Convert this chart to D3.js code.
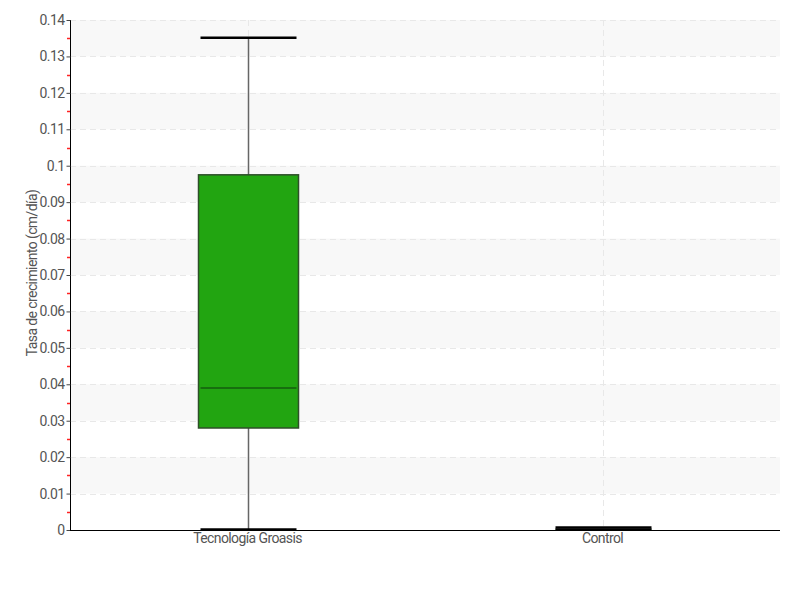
<!DOCTYPE html>
<html>
<head>
<meta charset="utf-8">
<script src="https://cdn.jsdelivr.net/npm/d3@7"></script>
<style>
  body { margin: 0; background: #fff; }
  text { font-family: Roboto, "Noto Sans", sans-serif; fill: #555; letter-spacing: -0.6px; }
</style>
</head>
<body>
<div id="chart"></div>
<script>
// box plot values
var categories = ["Tecnología Groasis", "Control"];
var whiskerLow = [0, 0];
var q1Values = [0.028, 0];
var medianValues = [0.039, 0];
var q3Values = [0.0975, 0];
var whiskerHigh = [0.135, 0];
var yTicks = [0, 0.01, 0.02, 0.03, 0.04, 0.05, 0.06, 0.07, 0.08, 0.09, 0.1, 0.11, 0.12, 0.13, 0.14];

var svgWidth = 800;
var svgHeight = 600;
var margin = { top: 20, right: 20, bottom: 70, left: 70 };
var width = svgWidth - margin.left - margin.right;
var height = svgHeight - margin.top - margin.bottom;

var svg = d3.select("#chart")
  .append("svg")
  .attr("width", svgWidth)
  .attr("height", svgHeight);

var chartGroup = svg.append("g")
  .attr("transform", `translate(${margin.left}, ${margin.top})`);

var xScale = d3.scaleBand()
  .domain(categories)
  .range([0, width]);

var yScale = d3.scaleLinear()
  .domain([0, 0.14])
  .range([height, 0]);

var boxes = categories.map(function(c, i) {
  return {
    name: c, low: whiskerLow[i], q1: q1Values[i], med: medianValues[i],
    q3: q3Values[i], high: whiskerHigh[i]
  };
});

// alternating shaded bands
var bandStarts = yTicks.filter(function(t, i) { return i % 2 == 1 && i < yTicks.length - 1; });
chartGroup.selectAll(".band")
  .data(bandStarts)
  .enter()
  .append("rect")
  .attr("x", 0)
  .attr("width", width)
  .attr("y", d => yScale(d + 0.01))
  .attr("height", d => yScale(d) - yScale(d + 0.01))
  .attr("fill", "#f8f8f8");

// grid lines
chartGroup.selectAll(".hgrid")
  .data(yTicks.slice(1))
  .enter()
  .append("line")
  .attr("x1", 0)
  .attr("x2", width)
  .attr("y1", d => Math.round(yScale(d)) + 0.5)
  .attr("y2", d => Math.round(yScale(d)) + 0.5)
  .attr("stroke", "#e8e8e8")
  .attr("stroke-dasharray", "6,4");

chartGroup.selectAll(".vgrid")
  .data(categories)
  .enter()
  .append("line")
  .attr("x1", d => Math.round(xScale(d) + xScale.bandwidth() / 2) + 0.5)
  .attr("x2", d => Math.round(xScale(d) + xScale.bandwidth() / 2) + 0.5)
  .attr("y1", 0)
  .attr("y2", height)
  .attr("stroke", "#e8e8e8")
  .attr("stroke-dasharray", "6,4");

// boxes
var boxWidth = 100;
var capWidth = 96;
var g = chartGroup.selectAll(".box")
  .data(boxes)
  .enter()
  .append("g")
  .attr("transform", d => `translate(${Math.round(xScale(d.name) + xScale.bandwidth() / 2) + 0.5}, 0)`);

g.append("line")
  .attr("y1", d => yScale(d.high))
  .attr("y2", d => yScale(d.low))
  .attr("stroke", "#666")
  .attr("stroke-width", 1.5);

g.append("rect")
  .attr("x", -boxWidth / 2)
  .attr("width", boxWidth)
  .attr("y", d => yScale(d.q3))
  .attr("height", d => yScale(d.q1) - yScale(d.q3))
  .attr("fill", "#22a511")
  .attr("stroke", "#2f4f2a")
  .attr("stroke-width", 1.5);

g.append("line")
  .attr("x1", -boxWidth / 2 + 2)
  .attr("x2", boxWidth / 2 - 2)
  .attr("y1", d => yScale(d.med))
  .attr("y2", d => yScale(d.med))
  .attr("stroke", "#155d0f")
  .attr("stroke-width", 1.5);

// whisker caps (upper drawn higher so a flat box shows a thicker bar)
g.selectAll(".cap")
  .data(d => [[d.high, -2], [d.low, 0]])
  .enter()
  .append("line")
  .attr("x1", -capWidth / 2)
  .attr("x2", capWidth / 2)
  .attr("y1", d => yScale(d[0]) + (d[0] == 0 ? d[1] : 0) - 0.5)
  .attr("y2", d => yScale(d[0]) + (d[0] == 0 ? d[1] : 0) - 0.5)
  .attr("stroke", "#000")
  .attr("stroke-width", 2.5);

// minor ticks
chartGroup.selectAll(".minor")
  .data(yTicks.slice(0, -1))
  .enter()
  .append("line")
  .attr("x1", -3)
  .attr("x2", 0)
  .attr("y1", d => Math.round(yScale(d + 0.005)) + 0.5)
  .attr("y2", d => Math.round(yScale(d + 0.005)) + 0.5)
  .attr("stroke", "#f22")
  .attr("stroke-width", 1.5);

// axes
var leftAxis = d3.axisLeft(yScale)
  .tickValues(yTicks)
  .tickSize(4)
  .tickPadding(2)
  .tickFormat(d => String(+d.toFixed(2)));

var yAxisG = chartGroup.append("g")
  .attr("transform", "translate(0.5, 0)")
  .call(leftAxis);
yAxisG.select(".domain").attr("stroke", "#000").attr("d", `M0,0V${height}`);
yAxisG.selectAll(".tick line").attr("stroke", "#444");
yAxisG.selectAll("text")
  .style("font-family", "Roboto, 'Noto Sans', sans-serif")
  .style("font-size", "14px")
  .attr("fill", "#555");

var bottomAxis = d3.axisBottom(xScale).tickSize(0).tickPadding(3);
var xAxisG = chartGroup.append("g")
  .attr("transform", `translate(0, ${height + 0.5})`)
  .call(bottomAxis);
xAxisG.select(".domain").attr("stroke", "#000").attr("d", `M0,0H${width}`);
xAxisG.selectAll("text")
  .style("font-family", "Roboto, 'Noto Sans', sans-serif")
  .style("font-size", "14px")
  .attr("fill", "#555");

// axis title
chartGroup.append("text")
  .attr("transform", "rotate(-90)")
  .attr("x", 0 - (height / 2) + 2)
  .attr("y", 0 - margin.left + 37)
  .attr("text-anchor", "middle")
  .style("font-size", "14px")
  .text("Tasa de crecimiento (cm/día)");
</script>
</body>
</html>
